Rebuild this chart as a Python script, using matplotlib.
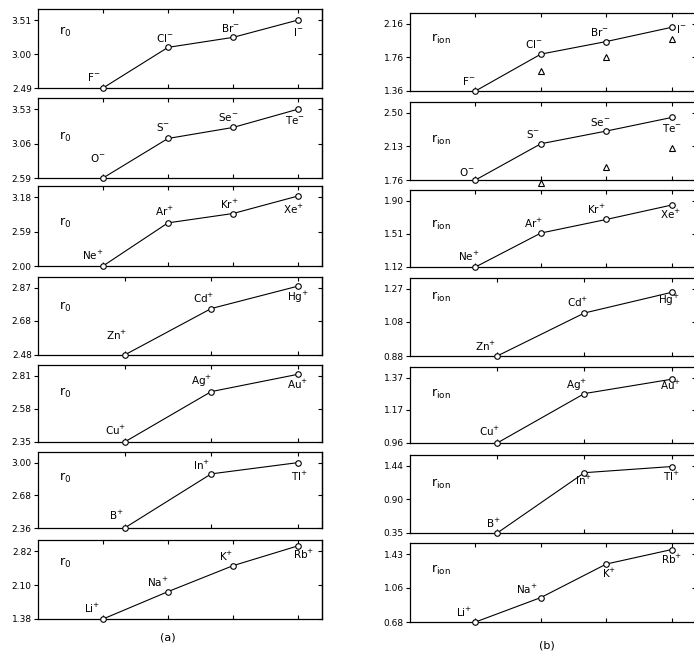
import matplotlib.pyplot as plt
plt.switch_backend('agg')
import numpy as np

# element names for each row of panels (top to bottom)
names = [['F', 'Cl', 'Br', 'I'],
         ['O', 'S', 'Se', 'Te'],
         ['Ne', 'Ar', 'Kr', 'Xe'],
         ['Zn', 'Cd', 'Hg'],
         ['Cu', 'Ag', 'Au'],
         ['B', 'In', 'Tl'],
         ['Li', 'Na', 'K', 'Rb']]
charges = ['-', '-', '+', '+', '+', '+', '+']

# (a) r0 values
r0_vals = [[2.49, 3.10, 3.25, 3.51],
           [2.59, 3.13, 3.28, 3.53],
           [2.00, 2.74, 2.90, 3.20],
           [2.48, 2.75, 2.88],
           [2.35, 2.70, 2.82],
           [2.36, 2.89, 3.00],
           [1.38, 1.96, 2.51, 2.93]]
r0_ticks = [[2.49, 3.00, 3.51],
            [2.59, 3.06, 3.53],
            [2.00, 2.59, 3.18],
            [2.48, 2.68, 2.87],
            [2.35, 2.58, 2.81],
            [2.36, 2.68, 3.00],
            [1.38, 2.10, 2.82]]

# (b) r_ion values
rion_vals = [[1.36, 1.80, 1.95, 2.12],
             [1.76, 2.16, 2.30, 2.45],
             [1.12, 1.52, 1.68, 1.85],
             [0.88, 1.13, 1.25],
             [0.96, 1.27, 1.36],
             [0.35, 1.33, 1.43],
             [0.68, 0.95, 1.32, 1.48]]
rion_ticks = [[1.36, 1.76, 2.16],
              [1.76, 2.13, 2.50],
              [1.12, 1.51, 1.90],
              [0.88, 1.08, 1.27],
              [0.96, 1.17, 1.37],
              [0.35, 0.90, 1.44],
              [0.68, 1.06, 1.43]]
# triangles (second set of radii) in the first two (b) panels
tri_index = [1, 2, 3]
tri_vals = {0: [1.60, 1.76, 1.98],
            1: [1.73, 1.90, 2.11]}

# layout (pixels)
W, H = 694, 652
left_x, left_w = 38, 284
left_tops = [9, 98, 186, 277, 365, 452, 540]
left_hs = [79, 80, 80, 78, 77, 76, 79]
right_x, right_w = 410, 286
right_tops = [13, 102, 190, 278, 367, 455, 543]
right_hs = [78, 78, 77, 78, 76, 78, 79]

left_lab_y = [0.71, 0.51, 0.54, 0.61, 0.64, 0.66, 0.71]
right_lab_y = [0.67, 0.51, 0.55, 0.76, 0.64, 0.63, 0.66]

# label offsets from the point (pixels, centre of the letters)
left_offs = [[(-9, 10), (-3, 8), (-3, 8), (0, -13)],
             [(-5, 19), (-5, 10), (-5, 9), (-3, -12)],
             [(-10, 9), (-4, 10), (-4, 8), (-4, -15)],
             [(-8, 18), (-8, 9), (0, -12)],
             [(-9, 10), (-10, 10), (0, -12)],
             [(-8, 11), (-10, 7), (2, -15)],
             [(-11, 9), (-10, 8), (-7, 8), (6, -10)]]
right_offs = [[(-7, 9), (-7, 9), (-7, 9), (9, -3)],
              [(-9, 7), (-8, 9), (-6, 8), (0, -12)],
              [(-7, 9), (-7, 8), (-10, 8), (-1, -11)],
              [(-12, 8), (-7, 9), (-3, -9)],
              [(-8, 10), (-8, 8), (-1, -8)],
              [(-4, 8), (-1, -9), (0, -11)],
              [(-11, 8), (-14, 7), (3, -11), (0, -11)]]

plt.rcParams['font.family'] = 'DejaVu Sans'
fig = plt.figure(figsize=(W / 100, H / 100), dpi=100)


def make_axes(x, top, w, h):
    return fig.add_axes([x / W, 1 - (top + h) / H, w / W, h / H])


def draw_panel(ax, row, vals, ticks, ylab, lab_y, offs):
    n = len(vals)
    xs = np.arange(n)
    lo, hi = ticks[0], ticks[-1]
    ax.set_ylim(lo, lo + (hi - lo) / 0.86)
    if n == 4:
        ax.set_xlim(-1.0, 3.37)
    else:
        ax.set_xlim(-1.0, 2.28)
    ax.plot(xs, vals, '-', color='black', lw=0.8, marker='o', ms=4,
            mfc='white', mec='black', mew=0.8, clip_on=False, zorder=3)
    for i, name in enumerate(names[row]):
        dx, dy = offs[i]
        ax.annotate(name + '$^{' + charges[row] + '}$', (xs[i], vals[i]),
                    xytext=(dx, dy - 3), textcoords='offset pixels',
                    ha='center', va='baseline', fontsize=7.5)
    ax.text(0.075, lab_y, ylab, transform=ax.transAxes, fontsize=9,
            ha='left', va='center')
    ax.set_xticks(xs)
    ax.set_xticklabels([])
    ax.tick_params(axis='x', top=True, bottom=True, direction='in',
                   length=3, width=0.8)
    ax.set_yticks(ticks)
    ax.set_yticklabels(['%.2f' % t for t in ticks])
    ax.tick_params(axis='y', direction='out', length=3, width=0.8,
                   labelsize=6.5, pad=1.5)
    sec = ax.secondary_yaxis('right')
    sec.set_yticks(ticks)
    sec.tick_params(direction='in', length=3, width=0.8, labelright=False)
    for s in ax.spines.values():
        s.set_linewidth(0.9)
    sec.spines['right'].set_linewidth(0.9)
    return xs


for row in range(7):
    ax = make_axes(left_x, left_tops[row], left_w, left_hs[row])
    draw_panel(ax, row, r0_vals[row], r0_ticks[row], r'r$_{\mathrm{0}}$',
               left_lab_y[row], left_offs[row])

    ax = make_axes(right_x, right_tops[row], right_w, right_hs[row])
    xs = draw_panel(ax, row, rion_vals[row], rion_ticks[row],
                    r'r$_{\mathrm{ion}}$', right_lab_y[row], right_offs[row])
    if row in tri_vals:
        ax.plot(xs[tri_index], tri_vals[row], linestyle='none', marker='^',
                ms=4, mfc='none', mec='black', mew=0.8, clip_on=False)

fig.text(168 / W, 1 - 637 / H, '(a)', ha='center', va='center', fontsize=8)
fig.text(547 / W, 1 - 646 / H, '(b)', ha='center', va='center', fontsize=8)

fig.savefig('out.png', dpi=100)
